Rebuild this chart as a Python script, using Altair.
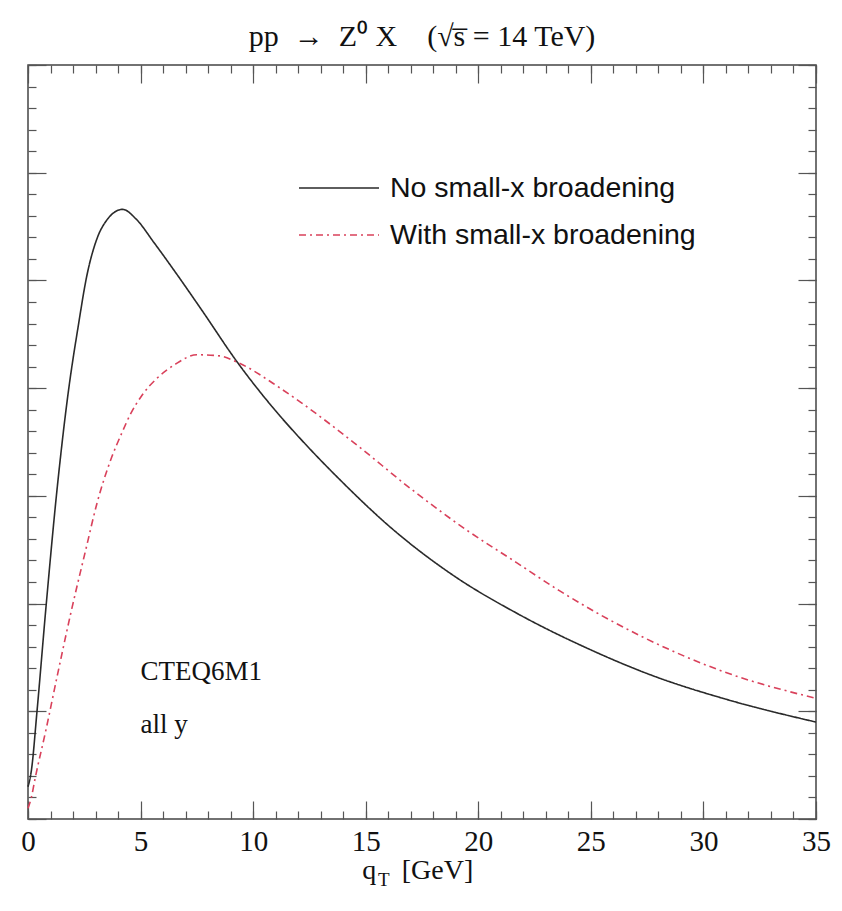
import altair as alt
import pandas as pd

# ---- data ----
series_names = ["No small-x broadening", "With small-x broadening"]

qt_no = [0, 0.15, 0.4, 0.8, 1.3, 1.8, 2.25, 2.6, 3.05, 3.5, 4.2, 4.8, 5.6, 6.5,
         7.7, 9.3, 11.2, 12.1, 13.9, 16.2, 18.9, 21.8, 25, 27.5, 31.2, 35]
val_no = [0.3, 0.45, 1.0, 1.97, 3.08, 3.98, 4.6, 5.03, 5.38, 5.56, 5.66, 5.57, 5.35, 5.09,
          4.73, 4.24, 3.74, 3.53, 3.14, 2.69, 2.26, 1.9, 1.57, 1.35, 1.1, 0.9]

qt_with = [0, 0.15, 0.3, 0.8, 1.3, 1.9, 2.6, 3.05, 3.72, 4.16, 4.53, 5.05, 5.72, 6.53,
           7.5, 8.5, 9.3, 11.2, 12.1, 14.5, 17.1, 19.5, 21.7, 23.6, 27.3, 31, 35]
val_with = [0.1, 0.2, 0.36, 0.83, 1.33, 1.91, 2.53, 2.92, 3.36, 3.58, 3.75, 3.93, 4.09, 4.22,
            4.31, 4.3, 4.24, 4.0, 3.87, 3.49, 3.05, 2.68, 2.38, 2.12, 1.69, 1.36, 1.12]

x_major = [0, 5, 10, 15, 20, 25, 30, 35]
x_minor = list(range(0, 36))
y_major = [0, 1, 2, 3, 4, 5, 6, 7]
y_minor = [round(i * 0.2, 1) for i in range(0, 36)]

note_text = ["CTEQ6M1", "all  y"]
note_x = [5.0, 5.0]
note_y = [1.29, 0.80]

xtitle_text = ["q", "[GeV]"]
xtitle_x = [14.85, 16.6]
xsub_text = ["T"]
xsub_x = [15.55]

title_text = "pp \u00a0\u2192\u00a0 Z\u2070 X\u00a0\u00a0\u00a0 (\u221As\u0305 = 14 TeV)"

# ---- layout ----
W, H = 788, 754
TICK = "#555555"
SERIF = "Liberation Serif"
SANS = "Liberation Sans"

df = pd.concat([
    pd.DataFrame({"qt": qt_no, "val": val_no, "series": series_names[0]}),
    pd.DataFrame({"qt": qt_with, "val": val_with, "series": series_names[1]}),
], ignore_index=True)

notes = pd.DataFrame({"text": note_text, "x": note_x, "y": note_y})

xs = alt.Scale(domain=[0, 35], nice=False, zero=False)
ys = alt.Scale(domain=[0, 7], nice=False, zero=False)


def tick_axis(orient, values, size, offset):
    return alt.Axis(orient=orient, values=values, tickSize=size, offset=offset,
                    labels=False, domain=False, grid=False, title=None,
                    ticks=True, tickColor=TICK, tickWidth=1.2)


leg = alt.Legend(orient="none", legendX=270, legendY=108, title=None,
                 symbolType="stroke", symbolSize=6400, symbolStrokeWidth=1.6,
                 labelFont=SANS, labelFontSize=28.5, labelColor="#111111", labelLimit=0,
                 labelOffset=10, rowPadding=17, clipHeight=30, padding=0)

lines = alt.Chart(df).mark_line(strokeWidth=1.6, interpolate="monotone").encode(
    x=alt.X("qt:Q", scale=xs,
            axis=alt.Axis(orient="bottom", values=x_major, tickSize=0, domain=False,
                          grid=False, labelFont=SERIF, labelFontSize=29,
                          labelColor="#111111", labelPadding=8, title=None,
                          labelFlush=False)),
    y=alt.Y("val:Q", scale=ys, axis=tick_axis("right", y_major, 18, -W)),
    color=alt.Color("series:N", scale=alt.Scale(domain=series_names,
                                                range=["#2a2a2a", "#d9415b"]), legend=leg),
    strokeDash=alt.StrokeDash("series:N", scale=alt.Scale(domain=series_names,
                                                          range=[[1, 0], [7, 4, 2, 4]]), legend=leg),
    order="qt:Q",
)


def ghost(xax, yax):
    return alt.Chart(df).mark_point(opacity=0, size=1).encode(
        x=alt.X("qt:Q", scale=xs, axis=xax),
        y=alt.Y("val:Q", scale=ys, axis=yax),
    )


t1 = ghost(tick_axis("top", x_major, 18, -H), tick_axis("right", y_minor, 8, -W))
t2 = ghost(tick_axis("top", x_minor, 8, -H), tick_axis("left", y_major, 18, -W))
t3 = ghost(tick_axis("bottom", x_major, 18, -H), tick_axis("left", y_minor, 8, -W))
t4 = ghost(tick_axis("bottom", x_minor, 8, -H), None)

note_layer = alt.Chart(notes).mark_text(align="left", baseline="alphabetic", font=SERIF,
                                        fontSize=27, color="#111111").encode(
    x=alt.X("x:Q", scale=xs, axis=None), y=alt.Y("y:Q", scale=ys, axis=None), text="text:N")

xtitle_main = alt.Chart(pd.DataFrame({"t": xtitle_text, "x": xtitle_x})).mark_text(
    align="left", baseline="alphabetic", font=SERIF, fontSize=28, color="#111111"
).encode(x=alt.X("x:Q", scale=xs, axis=None), y=alt.value(H + 60), text="t:N")
xtitle_sub = alt.Chart(pd.DataFrame({"t": xsub_text, "x": xsub_x})).mark_text(
    align="left", baseline="alphabetic", font=SERIF, fontSize=19, color="#111111"
).encode(x=alt.X("x:Q", scale=xs, axis=None), y=alt.value(H + 67), text="t:N")

chart = alt.layer(lines, t1, t2, t3, t4, note_layer, xtitle_main, xtitle_sub).resolve_axis(
    x="independent", y="independent"
).properties(
    width=W, height=H,
    title=alt.TitleParams(title_text, font=SERIF, fontSize=30,
                          fontWeight="normal", anchor="middle", color="#111111",
                          baseline="alphabetic", offset=-12),
    padding={"left": 28, "top": 65, "right": 26, "bottom": 92},
    autosize=alt.AutoSizeParams(type="none"),
    background="white",
).configure_view(stroke="#444444", strokeWidth=1.5)

chart.save("out.html", embed_options={"renderer": "svg", "actions": False})
